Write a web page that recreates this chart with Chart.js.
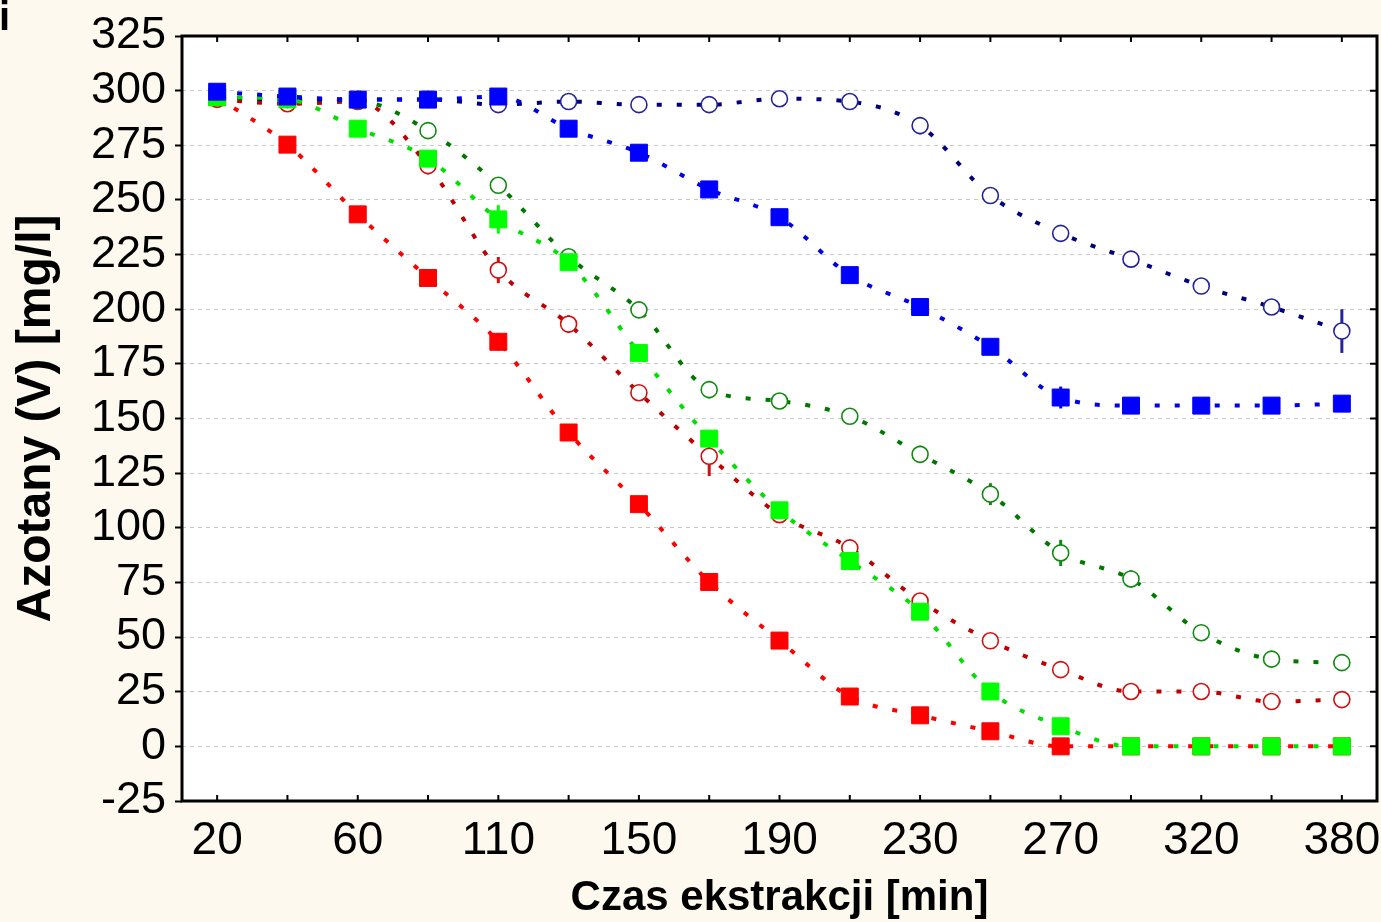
<!DOCTYPE html>
<html>
<head>
<meta charset="utf-8">
<script src="https://cdn.jsdelivr.net/npm/chart.js@4/dist/chart.umd.min.js"></script>
<style>
html,body{margin:0;padding:0;background:#fdf9ee;}
#wrap{position:relative;width:1381px;height:922px;}
</style>
</head>
<body>
<div id="wrap"><canvas id="c" width="1381" height="922"></canvas></div>
<script>
const categories = ['20','40','60','85','110','130','150','170','190','210','230','250','270','295','320','350','380'];
const shownLabels = ['20','60','110','150','190','230','270','320','380'];
const yTicks = {min: -25, max: 325, step: 25};

const redSquares   = [297, 275.3, 243.4, 214.3, 185.1, 143.6, 110.8, 75.2, 48.4, 22.8, 14.2, 6.9, 0, 0, 0, 0, 0];
const redCircles   = [296, 294, 295, 265.7, 217.9, 193.2, 161.8, 132.7, 106, 90.8, 66.5, 48.3, 35.1, 25.1, 25.1, 20.5, 21.4];
const greenSquares = [297, 296, 282.6, 268.9, 241.1, 221.5, 180, 140.8, 108, 84.8, 61.6, 25.1, 9.2, 0, 0, 0, 0];
const greenCircles = [297, 296, 295.4, 281.7, 256.7, 224, 199.7, 163.2, 158, 151, 133.6, 115.4, 88.5, 76.6, 52, 39.9, 38.3];
const blueSquares  = [299.5, 297.3, 295.9, 295.9, 297.3, 282.6, 271.6, 254.8, 242.1, 215.6, 201, 182.8, 159.6, 155.9, 155.9, 155.9, 156.8];
const blueCircles  = [297, 296, 296, 296, 293.6, 295, 293.6, 293.6, 296.3, 295, 284, 252, 234.7, 222.9, 210.6, 201, 190];

const redSqErr   = [0, 3, 0, 2, 4, 0, 0, 3, 0, 0, 0, 0, 0, 0, 0, 0, 0];
const redCiErr   = [0, 0, 0, 4, 6, 4, 0, 9, 3, 0, 0, 2, 3, 3, 0, 0, 0];
const greenSqErr = [0, 0, 0, 0, 6.5, 0, 0, 0, 0, 0, 0, 0, 0, 0, 0, 0, 0];
const greenCiErr = [0, 0, 0, 0, 0, 0, 0, 4, 0, 0, 4, 5, 6, 4, 0, 0, 0];
const blueSqErr  = [0, 0, 0, 0, 0, 0, 0, 0, 3, 3, 0, 0, 5, 0, 0, 0, 0];
const blueCiErr  = [0, 0, 0, 0, 0, 0, 0, 0, 0, 0, 4, 0, 0, 0, 0, 0, 10];

function ds(data, err, lineColor, ptStroke, ptFill, style, radius, order){
  return {
    data: data, errors: err, errColor: ptStroke,
    borderColor: lineColor, borderWidth: 4, borderDash: [5, 15], borderCapStyle: 'butt',
    cubicInterpolationMode: 'monotone', fill: false,
    pointStyle: style, pointRadius: radius, pointHoverRadius: radius,
    pointBorderColor: ptStroke, pointBackgroundColor: ptFill,
    pointBorderWidth: style === 'circle' ? 1.6 : 1,
    order: order
  };
}

const errorPlugin = {
  id: 'errbars',
  beforeDatasetsDraw(chart){
    const {ctx, scales:{x, y}} = chart;
    ctx.save();
    chart.data.datasets.forEach(d => {
      if (!d.errors) return;
      ctx.strokeStyle = d.errColor; ctx.lineWidth = 3;
      d.errors.forEach((e, i) => {
        if (!e) return;
        const px = x.getPixelForValue(i);
        ctx.beginPath();
        ctx.moveTo(px, y.getPixelForValue(d.data[i] - e));
        ctx.lineTo(px, y.getPixelForValue(d.data[i] + e));
        ctx.stroke();
      });
    });
    ctx.restore();
  }
};

const framePlugin = {
  id: 'frame',
  beforeDraw(chart){
    const {ctx, chartArea:{left, right, top, bottom}} = chart;
    ctx.save();
    ctx.fillStyle = '#fdf9ee';
    ctx.fillRect(0, 0, chart.width, chart.height);
    ctx.fillStyle = '#ffffff';
    ctx.fillRect(left, top, right - left, bottom - top);
    ctx.restore();
  },
  afterDraw(chart){
    const {ctx, chartArea:{left, right, top, bottom}, scales:{x, y}} = chart;
    ctx.save();
    ctx.strokeStyle = '#000'; ctx.lineWidth = 2;
    ctx.beginPath();
    x.ticks.forEach((t, i) => {
      const px = x.getPixelForTick(i);
      ctx.moveTo(px, bottom); ctx.lineTo(px, bottom - 6);
      ctx.moveTo(px, top); ctx.lineTo(px, top + 6);
    });
    y.ticks.forEach((t, i) => {
      const py = y.getPixelForTick(i);
      ctx.moveTo(right, py); ctx.lineTo(right - 7, py);
    });
    ctx.stroke();
    ctx.lineWidth = 3;
    ctx.strokeRect(left, top, right - left, bottom - top);
    ctx.fillStyle = '#000';
    ctx.font = 'bold 40px "Liberation Sans", Arial, sans-serif';
    ctx.textBaseline = 'alphabetic';
    ctx.fillText('i', -1, 30);
    ctx.restore();
  }
};

new Chart(document.getElementById('c'), {
  type: 'line',
  data: {
    labels: categories,
    datasets: [
      ds(blueSquares, blueSqErr, '#0000e8', '#0000ff', '#0000ff', 'rect', 12, 0),
      ds(greenSquares, greenSqErr, '#00e000', '#00ff00', '#00ff00', 'rect', 12, 1),
      ds(redSquares, redSqErr, '#ff0000', '#ff0000', '#ff0000', 'rect', 12, 2),
      ds(blueCircles, blueCiErr, '#00007a', '#24249a', '#ffffff', 'circle', 8, 3),
      ds(greenCircles, greenCiErr, '#007800', '#108a10', '#ffffff', 'circle', 8, 4),
      ds(redCircles, redCiErr, '#c00000', '#d01010', '#ffffff', 'circle', 8, 5)
    ]
  },
  options: {
    responsive: false, animation: false, devicePixelRatio: 1,
    layout: {autoPadding: false, padding: {top: 33, right: 4, left: 0, bottom: 0}},
    plugins: {legend: {display: false}, tooltip: {enabled: false}},
    scales: {
      x: {
        type: 'category', offset: true,
        afterFit(s){ s.height = 121; },
        grid: {display: false, drawTicks: true, tickLength: 13},
        border: {display: false},
        ticks: {
          autoSkip: false, maxRotation: 0, padding: 0, color: '#000',
          font: {family: '"Liberation Sans", Arial, sans-serif', size: 46},
          callback(v, i){ const l = categories[i]; return shownLabels.includes(l) ? l : ''; }
        },
        title: {display: true, text: 'Czas ekstrakcji [min]', color: '#000',
          font: {family: '"Liberation Sans", Arial, sans-serif', size: 42, weight: 'bold', lineHeight: 1.1},
          padding: {top: 0, bottom: 0}}
      },
      y: {
        min: yTicks.min, max: yTicks.max,
        afterFit(s){ s.width = 182; },
        grid: {color: '#c8c8c8', lineWidth: 1, drawTicks: true, tickLength: 7, tickColor: '#000', tickWidth: 2, tickBorderDash: []},
        border: {display: false, dash: [4, 4]},
        ticks: {stepSize: yTicks.step, autoSkip: false, padding: 9, color: '#000',
          font: {family: '"Liberation Sans", Arial, sans-serif', size: 45}},
        title: {display: true, text: 'Azotany (V) [mg/l]', color: '#000',
          font: {family: '"Liberation Sans", Arial, sans-serif', size: 48, weight: 'bold', lineHeight: 1.2},
          padding: {top: 8, bottom: 0}}
      }
    }
  },
  plugins: [errorPlugin, framePlugin]
});
</script>
</body>
</html>
